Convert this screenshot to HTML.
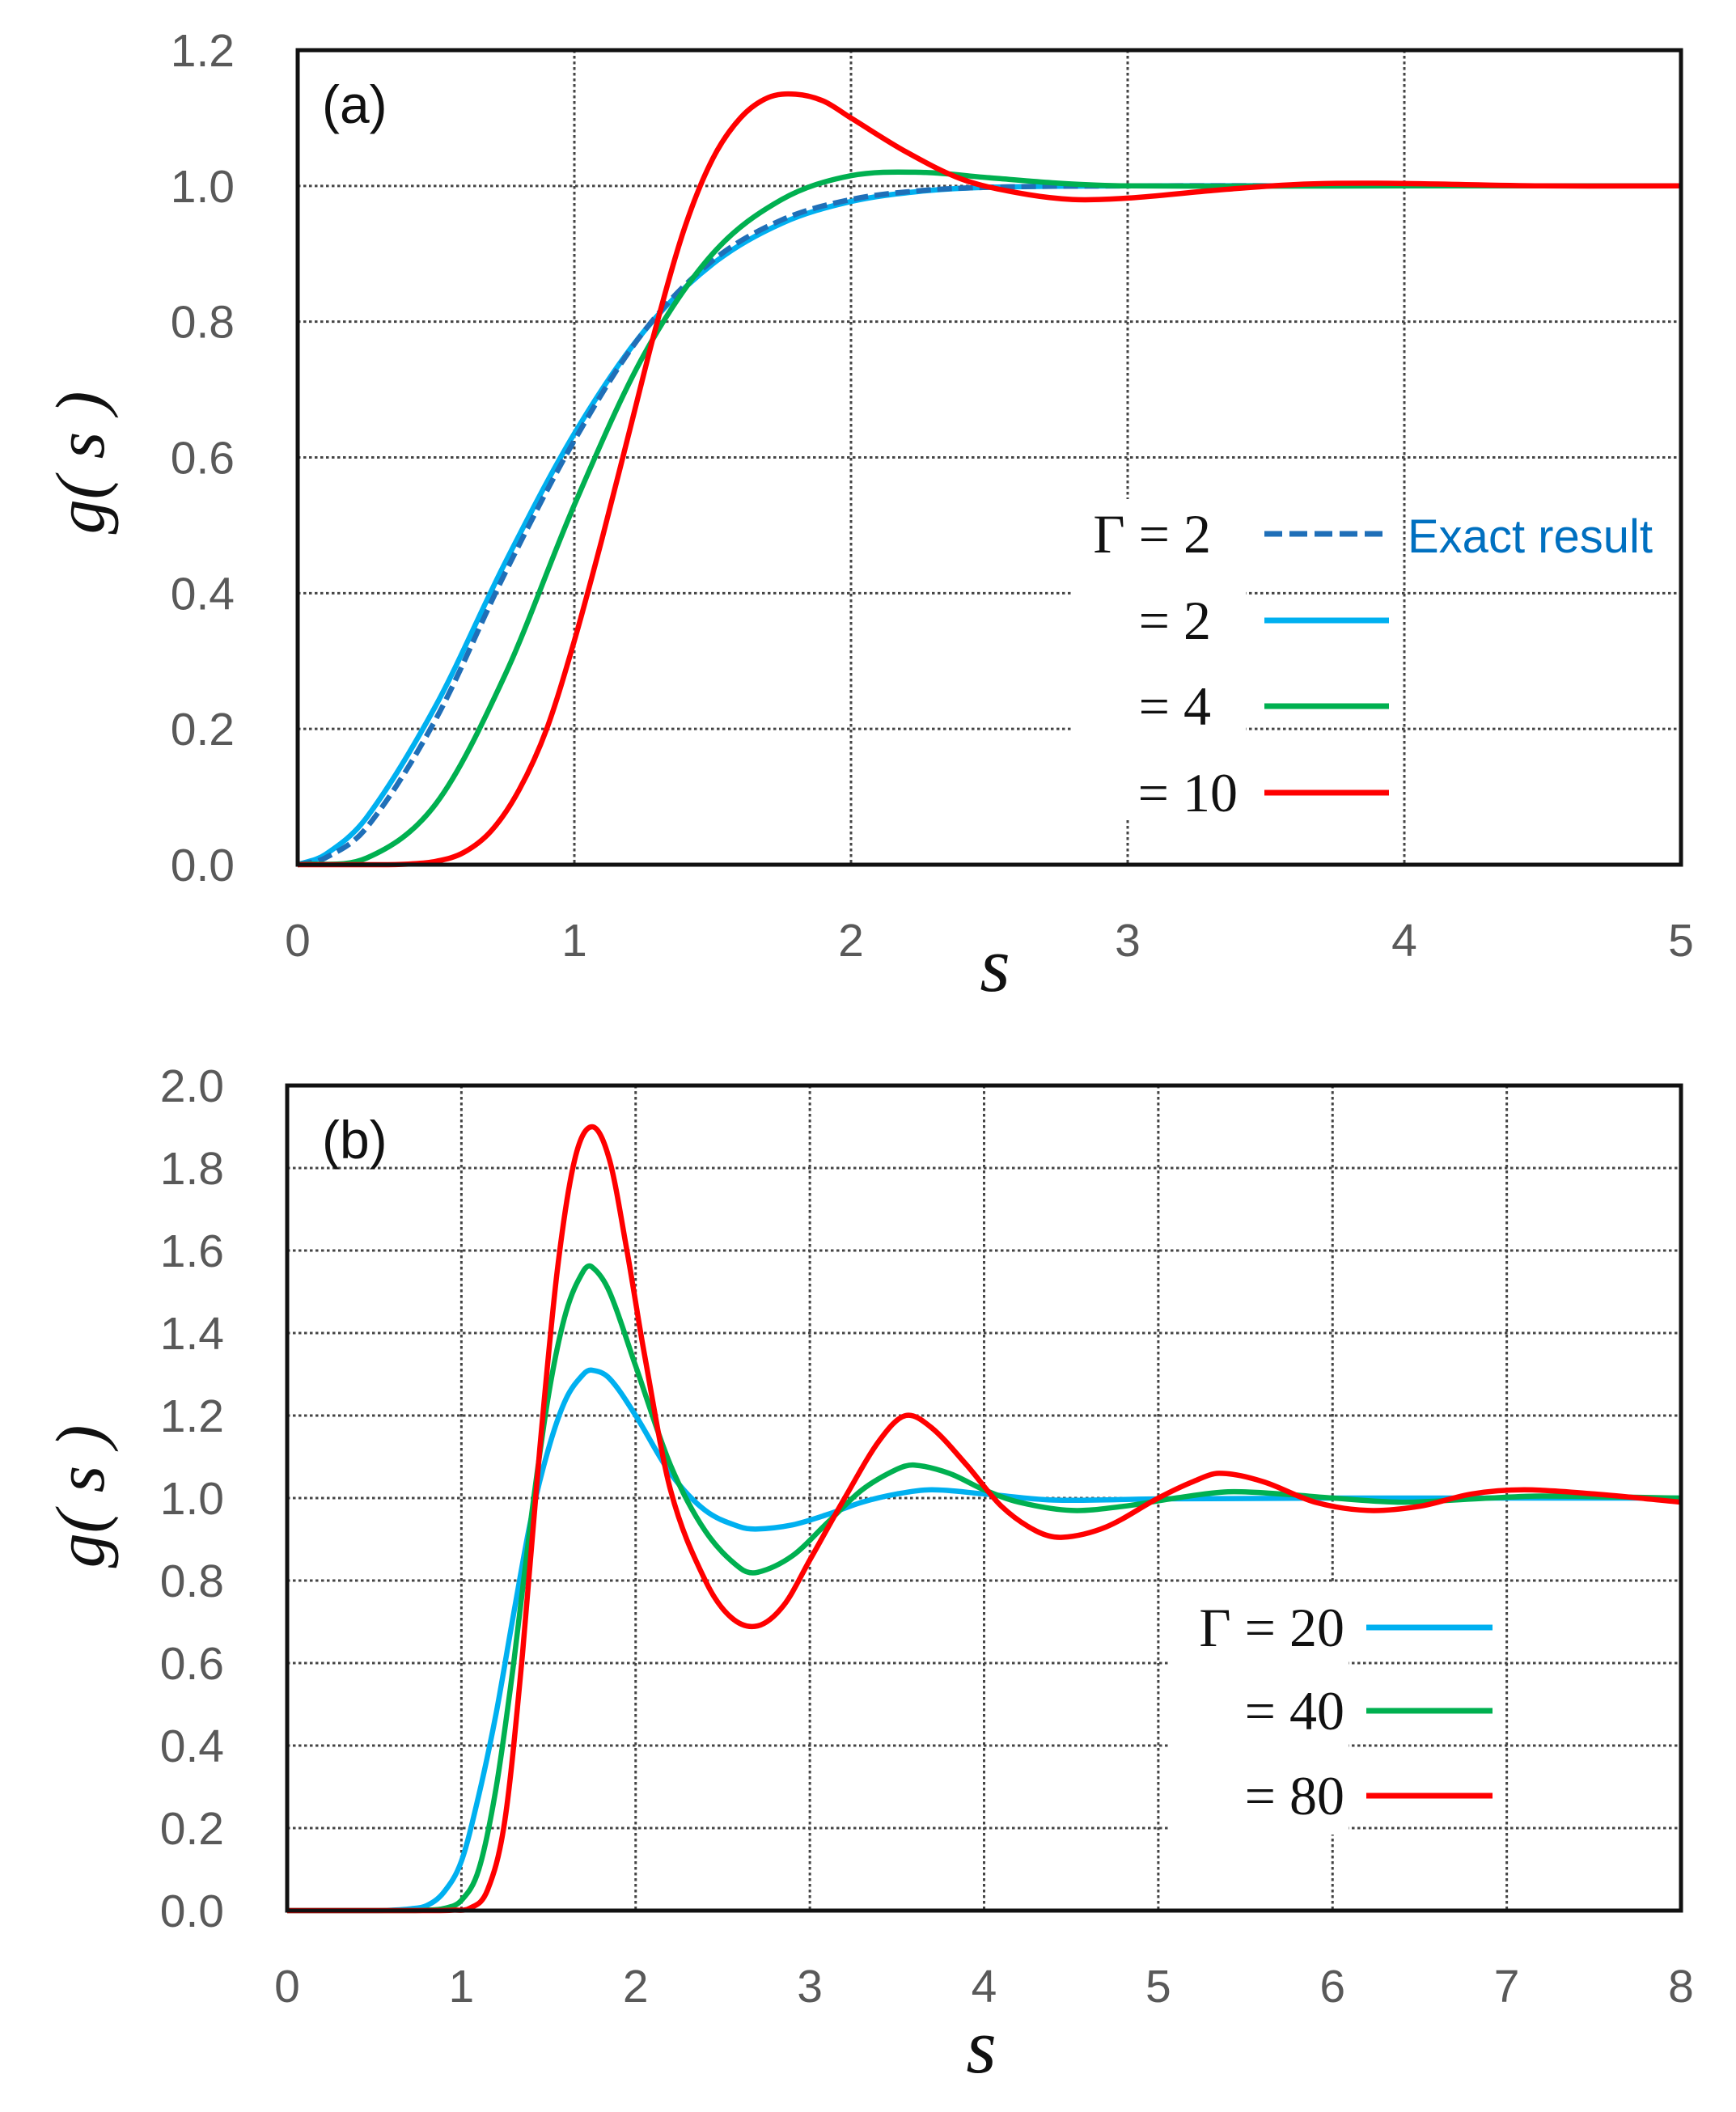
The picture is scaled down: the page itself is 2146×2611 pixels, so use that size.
<!DOCTYPE html>
<html><head><meta charset="utf-8"><style>
html,body{margin:0;padding:0;background:#fff}
svg{display:block}
</style></head><body>
<svg id="fig" width="2146" height="2611" viewBox="0 0 2146 2611" xmlns="http://www.w3.org/2000/svg"></svg>
<script>
// ---- Panel (a) data ----
const aXTicks = [0,1,2,3,4,5];
const aYTicks = [0.0,0.2,0.4,0.6,0.8,1.0,1.2];
const aYLabels = ["0.0","0.2","0.4","0.6","0.8","1.0","1.2"];
const aExactS = [0,0.1,0.25,0.5,0.75,1,1.25,1.5,1.75,2,2.25,2.5,3,4,5];
const aExactG = [0,0.01,0.055,0.215,0.43,0.625,0.785,0.89,0.95,0.98,0.993,0.998,1,1,1];
const aG2S = [0,0.1,0.25,0.5,0.75,1,1.25,1.5,1.75,2,2.25,2.5,3,4,5];
const aG2G = [0,0.015,0.07,0.235,0.445,0.635,0.785,0.885,0.945,0.977,0.992,0.998,1,1,1];
const aG4S = [0,0.25,0.5,0.75,1,1.25,1.5,1.75,2,2.25,2.5,2.75,3,4,5];
const aG4G = [0,0.01,0.09,0.28,0.53,0.75,0.9,0.98,1.015,1.02,1.012,1.004,1.0,1,1];
const aG10S = [0,0.2,0.3,0.4,0.5,0.6,0.7,0.8,0.9,1,1.1,1.2,1.3,1.4,1.5,1.6,1.7,1.8,1.9,2,2.2,2.4,2.6,2.8,3,3.3,3.6,3.9,4.5,5];
const aG10G = [0,0,0,0.001,0.005,0.018,0.05,0.11,0.2,0.33,0.48,0.64,0.8,0.94,1.04,1.1,1.13,1.135,1.125,1.1,1.05,1.01,0.99,0.98,0.982,0.993,1.002,1.004,1.0,1.0];

// ---- Panel (b) data ----
const bXTicks = [0,1,2,3,4,5,6,7,8];
const bYTicks = [0.0,0.2,0.4,0.6,0.8,1.0,1.2,1.4,1.6,1.8,2.0];
const bYLabels = ["0.0","0.2","0.4","0.6","0.8","1.0","1.2","1.4","1.6","1.8","2.0"];
const bG20S = [0,0.5,0.6,0.7,0.8,0.9,1,1.1,1.2,1.3,1.4,1.5,1.6,1.7,1.75,1.85,2,2.2,2.4,2.6,2.7,2.9,3.1,3.3,3.5,3.7,4,4.4,5,6,8];
const bG20G = [0,0,0.001,0.004,0.012,0.045,0.12,0.28,0.48,0.72,0.95,1.12,1.24,1.3,1.31,1.29,1.2,1.06,0.97,0.93,0.925,0.935,0.96,0.99,1.01,1.02,1.01,0.995,0.998,1.0,1.0];
const bG40S = [0,0.7,0.8,0.9,1,1.1,1.2,1.3,1.4,1.5,1.6,1.7,1.75,1.85,2,2.2,2.4,2.6,2.7,2.9,3.1,3.3,3.5,3.6,3.8,4,4.2,4.5,4.8,5.1,5.4,5.7,6,6.4,6.9,7.2,8];
const bG40G = [0,0,0.001,0.005,0.025,0.1,0.3,0.6,0.95,1.25,1.45,1.55,1.56,1.5,1.32,1.08,0.92,0.83,0.82,0.86,0.94,1.02,1.07,1.08,1.06,1.02,0.99,0.97,0.98,1.0,1.015,1.01,1.0,0.99,1.0,1.005,1.0];
const bG80S = [0,0.85,0.95,1.05,1.15,1.25,1.35,1.45,1.55,1.65,1.75,1.85,1.95,2.05,2.2,2.4,2.55,2.7,2.85,3.0,3.2,3.4,3.55,3.7,3.9,4.1,4.3,4.45,4.7,5.0,5.2,5.35,5.6,5.9,6.2,6.5,6.8,7.1,7.5,8];
const bG80G = [0,0,0.001,0.006,0.05,0.22,0.62,1.12,1.55,1.82,1.9,1.82,1.6,1.35,1.02,0.8,0.71,0.69,0.74,0.85,1.0,1.14,1.2,1.17,1.08,0.98,0.92,0.905,0.93,1.0,1.04,1.06,1.04,0.99,0.97,0.98,1.01,1.02,1.01,0.99];

const NS='http://www.w3.org/2000/svg';
const svg=document.getElementById('fig');
function el(tag,attrs,parent){const e=document.createElementNS(NS,tag);for(const k in attrs)e.setAttribute(k,attrs[k]);(parent||svg).appendChild(e);return e;}

function smoothPath(xs,ys){
  let d='M'+xs[0].toFixed(1)+','+ys[0].toFixed(1);
  for(let i=0;i<xs.length-1;i++){
    const x0=xs[Math.max(i-1,0)],y0=ys[Math.max(i-1,0)];
    const x1=xs[i],y1=ys[i],x2=xs[i+1],y2=ys[i+1];
    const x3=xs[Math.min(i+2,xs.length-1)],y3=ys[Math.min(i+2,xs.length-1)];
    const h=x2-x1;
    const m1=(y2-y0)/((x2-x0)||1), m2=(y3-y1)/((x3-x1)||1);
    const c1x=x1+h/3,c1y=y1+m1*h/3,c2x=x2-h/3,c2y=y2-m2*h/3;
    d+=' C'+c1x.toFixed(1)+','+c1y.toFixed(1)+' '+c2x.toFixed(1)+','+c2y.toFixed(1)+' '+x2.toFixed(1)+','+y2.toFixed(1);
  }
  return d;
}

function panel(cfg){
  const {L,R,T,B,xmax,ymax,xTicks,yTicks,yLabels,xLabY,name}=cfg;
  const sx=v=>L+(R-L)*v/xmax, sy=v=>B-(B-T)*v/ymax;
  const g=el('g',{});
  
  
  yTicks.forEach(v=>{ if(v>0&&v<ymax){const l=el('line',{x1:L,x2:R,y1:sy(v),y2:sy(v),stroke:'#444','stroke-width':3,'stroke-dasharray':'3.5 3.5'},g);
    
    }});
  xTicks.forEach(v=>{ if(v>0&&v<xmax){const l=el('line',{x1:sx(v),x2:sx(v),y1:T,y2:B,stroke:'#444','stroke-width':3,'stroke-dasharray':'3.5 3.5'},g);
    
    }});
  cfg.legBoxes.forEach(b=>{const r=el('rect',{x:b[0],y:b[1],width:b[2],height:b[3],fill:'#fff'},g);
    
    });
  yTicks.forEach((v,i)=>{const t=el('text',{x:L-78,y:sy(v)+20,'text-anchor':'end','font-family':'Liberation Sans, sans-serif','font-size':57,fill:'#595959'},g);t.textContent=yLabels[i];
    
    });
  xTicks.forEach(v=>{const t=el('text',{x:sx(v),y:xLabY,'text-anchor':'middle','font-family':'Liberation Sans, sans-serif','font-size':57,fill:'#595959'},g);t.textContent=String(v);
    
    });
  cfg.series.forEach(s=>{
    const p=el('path',{d:smoothPath(s.x.map(sx),s.y.map(sy)),fill:'none',stroke:s.color,'stroke-width':6.5,'stroke-linejoin':'round'},g);
    if(s.dash)p.setAttribute('stroke-dasharray',s.dash);
    
    
  });
  const f=el('rect',{x:L,y:T,width:R-L,height:B-T,fill:'none',stroke:'#111','stroke-width':5},g);
  
  
  return {sx,sy,g};
}

const A=panel({L:368,R:2078,T:62,B:1069,xmax:5,ymax:1.2,xTicks:aXTicks,yTicks:aYTicks,yLabels:aYLabels,xLabY:1182,name:'panel-a',
  legBoxes:[[1325,617,215,395]],
  series:[
   {x:aG2S,y:aG2G,color:'#00B0F0',name:'series-gamma-2'},
   {x:aExactS,y:aExactG,color:'#1F6FB8',dash:'18 8',name:'series-exact-gamma-2'},
   {x:aG4S,y:aG4G,color:'#00B050',name:'series-gamma-4'},
   {x:aG10S,y:aG10G,color:'#FF0000',name:'series-gamma-10'}]});
const Bp=panel({L:355,R:2078,T:1342,B:2362,xmax:8,ymax:2.0,xTicks:bXTicks,yTicks:bYTicks,yLabels:bYLabels,xLabY:2475,name:'panel-b',
  legBoxes:[[1447,1958,220,310]],
  series:[
   {x:bG20S,y:bG20G,color:'#00B0F0',name:'series-gamma-20'},
   {x:bG40S,y:bG40G,color:'#00B050',name:'series-gamma-40'},
   {x:bG80S,y:bG80G,color:'#FF0000',name:'series-gamma-80'}]});

function txt(x,y,s,attrs,name){const t=el('text',Object.assign({x:x,y:y},attrs));t.textContent=s;
  
  return t;}
function lline(x1,x2,y,color,dash,name){const l=el('line',{x1:x1,x2:x2,y1:y,y2:y,stroke:color,'stroke-width':7});if(dash)l.setAttribute('stroke-dasharray',dash);
  
  }

const serif={'font-family':'Liberation Serif, serif','font-size':68,fill:'#111','text-anchor':'end'};
txt(398,152,'(a)',{'font-family':'Liberation Sans, sans-serif','font-size':66,fill:'#111'},'panel-label-a');
txt(398,1432,'(b)',{'font-family':'Liberation Sans, sans-serif','font-size':66,fill:'#111'},'panel-label-b');
txt(1230,1225,'s',{'font-family':'Liberation Serif, serif','font-style':'italic','font-size':96,fill:'#111','text-anchor':'middle'},'x-axis-title-a');
txt(1213,2562,'s',{'font-family':'Liberation Serif, serif','font-style':'italic','font-size':96,fill:'#111','text-anchor':'middle'},'x-axis-title-b');
txt(0,0,'g( s )',{'font-family':'Liberation Serif, serif','font-style':'italic','font-size':86,fill:'#111','text-anchor':'middle',transform:'translate(128,572) rotate(-90)'},'y-axis-title-a');
txt(0,0,'g( s )',{'font-family':'Liberation Serif, serif','font-style':'italic','font-size':86,fill:'#111','text-anchor':'middle',transform:'translate(128,1850) rotate(-90)'},'y-axis-title-b');
txt(1497,683,'Γ = 2',serif,'legend-label-exact');
lline(1563,1717,660,'#1F6FB8','22 9','legend-line-exact');
txt(1740,683,'Exact result',{'font-family':'Liberation Sans, sans-serif','font-size':58,fill:'#0070C0'},'legend-text-exact');
txt(1497,790,'= 2',serif,'legend-label-gamma-2');
lline(1563,1717,767,'#00B0F0',null,'legend-line-gamma-2');
txt(1497,896,'= 4',serif,'legend-label-gamma-4');
lline(1563,1717,873,'#00B050',null,'legend-line-gamma-4');
txt(1530,1003,'= 10',serif,'legend-label-gamma-10');
lline(1563,1717,980,'#FF0000',null,'legend-line-gamma-10');
txt(1662,2035,'Γ = 20',serif,'legend-label-gamma-20');
lline(1689,1845,2012,'#00B0F0',null,'legend-line-gamma-20');
txt(1662,2138,'= 40',serif,'legend-label-gamma-40');
lline(1689,1845,2115,'#00B050',null,'legend-line-gamma-40');
txt(1662,2243,'= 80',serif,'legend-label-gamma-80');
lline(1689,1845,2220,'#FF0000',null,'legend-line-gamma-80');
</script>
</body></html>
